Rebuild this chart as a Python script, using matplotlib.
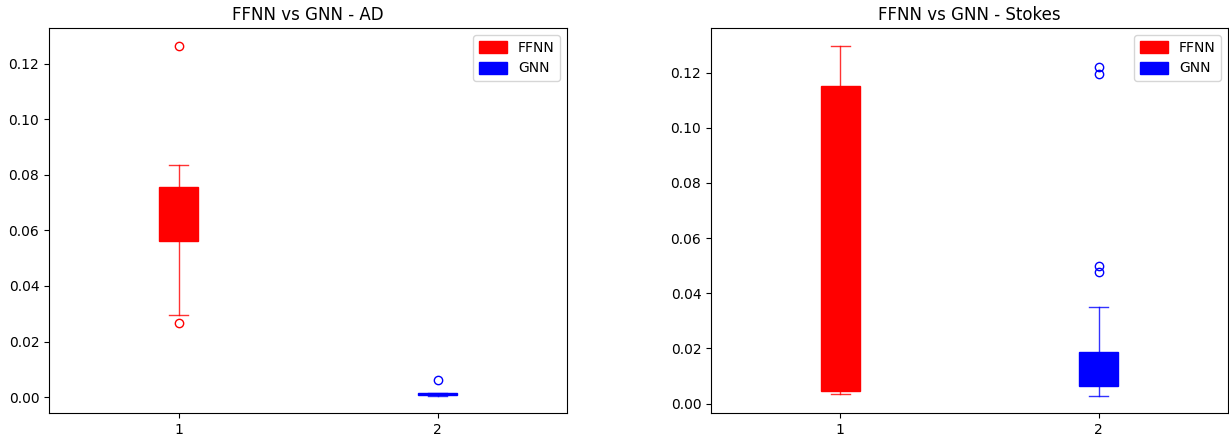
import matplotlib
matplotlib.use("Agg")
import matplotlib.pyplot as plt

models = ["FFNN", "GNN"]
colors = ["red", "blue"]

# box statistics per test case, one entry per model (FFNN, GNN)
ad_q1 = [0.0561, 0.0008]
ad_med = [0.0650, 0.0011]
ad_q3 = [0.0756, 0.0014]
ad_whislo = [0.0295, 0.0006]
ad_whishi = [0.0837, 0.0016]
ad_fliers = [[0.1265, 0.0268], [0.0061]]

st_q1 = [0.0047, 0.0063]
st_med = [0.0152, 0.0110]
st_q3 = [0.1151, 0.0186]
st_whislo = [0.0033, 0.0029]
st_whishi = [0.1298, 0.0349]
st_fliers = [[], [0.1219, 0.1195, 0.0500, 0.0476]]


def make_stats(q1, med, q3, lo, hi, fliers):
    return [dict(q1=a, med=b, q3=c, whislo=d, whishi=e, fliers=f)
            for a, b, c, d, e, f in zip(q1, med, q3, lo, hi, fliers)]


def draw(ax, stats, title):
    bp = ax.bxp(stats, patch_artist=True)
    for i, c in enumerate(colors):
        bp['boxes'][i].set_facecolor(c)
        bp['boxes'][i].set_edgecolor(c)
        bp['medians'][i].set_color(c)
        for part in ('whiskers', 'caps'):
            for ln in bp[part][2 * i:2 * i + 2]:
                ln.set_color(c)
                ln.set_alpha(0.8)
        bp['fliers'][i].set_markeredgecolor(c)
    ax.set_xticks([1, 2], ["1", "2"])
    ax.set_title(title)
    ax.legend(bp['boxes'], models, loc='upper right', handleheight=1.0)


fig = plt.figure(figsize=(12.29, 4.43), dpi=100)
ax1 = fig.add_axes([0.0399, 0.0677, 0.4215, 0.869])
ax2 = fig.add_axes([0.5785, 0.0677, 0.4207, 0.869])

draw(ax1, make_stats(ad_q1, ad_med, ad_q3, ad_whislo, ad_whishi, ad_fliers),
     "FFNN vs GNN - AD")
draw(ax2, make_stats(st_q1, st_med, st_q3, st_whislo, st_whishi, st_fliers),
     "FFNN vs GNN - Stokes")

fig.savefig("out.png", dpi=100)
